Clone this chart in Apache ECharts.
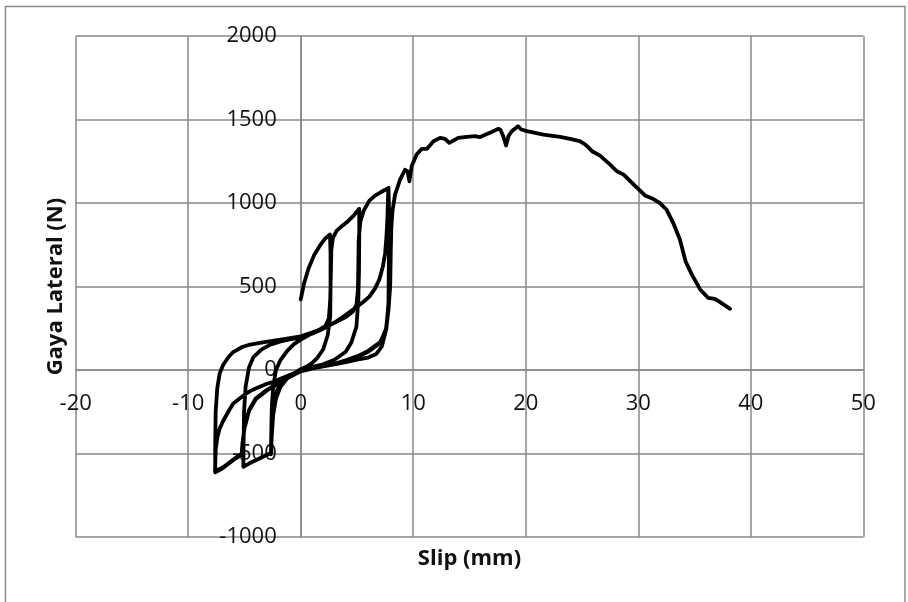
<!DOCTYPE html>
<html>
<head>
<meta charset="utf-8">
<script src="https://cdn.jsdelivr.net/npm/echarts@6/dist/echarts.min.js"></script>
<style>
html,body{margin:0;padding:0;background:#fff;}
#chart{width:908px;height:602px;}
</style>
</head>
<body>
<div id="chart"></div>
<script>
// Cyclic loading part (slip in mm, lateral force in N), in drawing order
const cyclicSlip = [
  0,0.3,0.7,1.2,1.7,2.2,2.6,
  2.65,2.65,2.62,2.4,2.0,1.5,1.0,0.5,0,-0.6,-1.2,-1.8,-2.2,-2.45,-2.58,-2.65,
  -2.62,-2.57,-2.45,-2.2,-1.8,-1.2,-0.6,0,0.8,1.6,2.2,2.5,2.62,2.68,2.72,2.85,3.2,3.7,4.2,4.7,5.0,5.2,
  5.2,5.18,5.12,4.95,4.5,4,3,2,1,0,-0.8,-1.5,-2.1,-2.45,-2.6,-2.62,-3.2,-4,-4.6,-5.1,
  -5.08,-5.04,-4.9,-4.6,-4.2,-3.5,-2.7,-1.8,-1,0,1,2,3,4,4.6,4.95,5.08,5.12,5.15,5.3,5.6,6.1,6.6,7.1,7.5,7.8,
  7.85,7.85,7.85,7.8,7.55,7,6,5,4,3,2,1,0,-1,-2,-3,-4,-4.6,-5,-5.15,-5.2,-5.8,-6.5,-7.1,-7.6,
  -7.6,-7.56,-7.42,-7.2,-6.9,-6.4,-6,-5.2,-4.5,-3.5,-2.8,-1.5,0,1,2,3,3.8,4.9,5.5,6.1,6.6,7,7.3,7.5,7.62,7.7,7.74,7.78,
  7.82,7.83,7.8,7.6,7.1,6,5,4,3,2,1,0,-1,-2,-3,-4,-4.6,-5,-5.18,-5.25,-5.9,-6.6,-7.1,-7.62
];
const cyclicForce = [
  424,520,610,690,745,790,812,
  700,500,320,210,125,75,42,20,5,-20,-50,-100,-170,-270,-400,-505,
  -380,-220,-100,0,60,115,155,182,212,240,265,310,420,580,720,790,835,865,892,925,950,966,
  800,600,420,260,165,110,62,35,18,0,-30,-62,-120,-220,-350,-495,-515,-540,-560,-580,
  -450,-250,-100,15,78,122,152,172,184,195,218,248,283,318,348,390,480,620,780,890,955,1015,1045,1065,1080,1092,
  950,750,520,360,235,160,110,78,55,36,22,8,-8,-42,-82,-122,-175,-245,-350,-430,-505,-530,-565,-595,-613,
  -450,-250,-110,-20,30,80,108,138,153,165,172,186,202,225,250,285,320,375,405,440,488,545,620,700,800,904,1000,1080,
  900,650,400,250,170,115,82,58,38,24,10,-5,-40,-78,-118,-170,-240,-345,-440,-500,-532,-568,-590,-605
];
// Final push to failure
const pushSlip = [
  -7.55,-7.4,-7.2,-6.9,-6.4,-6,-5,-4.5,-4,-3,-2.5,-2,-1,0,1,2,3,4,4.4,5,6,6.7,7.2,7.6,7.8,7.95,8.0,8.05,8.15,
  8.38,8.83,9.27,9.5,9.66,9.86,10.3,10.76,11.2,11.8,12.38,12.83,13.2,14.0,14.76,15.5,15.9,16.8,17.57,17.75,18.0,18.25,18.46,18.75,19.3,19.6,20.1,
  21.57,23.05,23.94,24.8,25.3,25.9,26.6,27.5,28.1,28.7,29.6,30.6,31.3,31.9,32.5,33.1,33.7,34.2,34.75,35.5,36.2,36.8,37.27,38.16
];
const pushForce = [
  -470,-400,-350,-305,-245,-200,-148,-126,-110,-82,-72,-58,-30,-5,10,22,34,47,54,62,75,96,140,244,364,500,700,850,950,
  1051,1141,1200,1190,1131,1221,1291,1325,1325,1371,1391,1385,1361,1391,1397,1401,1395,1421,1445,1440,1401,1345,1401,1431,1461,1441,1431,
  1411,1397,1385,1371,1351,1311,1285,1231,1191,1171,1111,1046,1026,1002,962,882,782,652,573,483,433,427,407,367
];
const xTicks = {min: -20, max: 50, step: 10};
const yTicks = {min: -1000, max: 2000, step: 500};

const data = [];
cyclicSlip.forEach((x, i) => data.push([x, cyclicForce[i]]));
pushSlip.forEach((x, i) => data.push([x, pushForce[i]]));

// layout of the plot area
const G = {left: 75.7, right: 44.7, top: 36.2, bottom: 65};
const plotW = 908 - G.left - G.right;
const plotH = 602 - G.top - G.bottom;
// place the axes on the zero lines (x = 0, y = 0), as in the original
const yAxisOffset = -plotW * (0 - xTicks.min) / (xTicks.max - xTicks.min);
const xAxisOffset = -plotH * (0 - yTicks.min) / (yTicks.max - yTicks.min);

const font = 'Open Sans';
const gridColor = '#898989';
const chart = echarts.init(document.getElementById('chart'), null, {renderer: 'canvas'});
chart.setOption({
  animation: false,
  backgroundColor: '#ffffff',
  grid: Object.assign({containLabel: false, outerBoundsMode: 'none'}, G),
  graphic: [{
    type: 'rect', shape: {x: 5.5, y: 6.5, width: 899.5, height: 640},
    style: {fill: 'none', stroke: '#8a8a8a', lineWidth: 1.5}, silent: true, z: 0
  }],
  xAxis: {
    type: 'value', min: xTicks.min, max: xTicks.max, interval: xTicks.step,
    position: 'bottom', offset: xAxisOffset,
    name: 'Slip (mm)', nameLocation: 'middle', nameGap: 178,
    nameTextStyle: {fontFamily: font, fontWeight: 'bold', fontSize: 22, color: '#111'},
    axisLine: {show: true, onZero: false, lineStyle: {color: gridColor, width: 1.5}},
    axisTick: {show: false},
    axisLabel: {fontFamily: font, fontSize: 22, color: '#111', margin: 23, formatter: v => String(v)},
    splitLine: {show: true, lineStyle: {color: gridColor, width: 1.5}}
  },
  yAxis: {
    type: 'value', min: yTicks.min, max: yTicks.max, interval: yTicks.step,
    position: 'left', offset: yAxisOffset,
    name: 'Gaya Lateral (N)', nameLocation: 'middle', nameGap: 234, nameRotate: 90,
    nameTextStyle: {fontFamily: font, fontWeight: 'bold', fontSize: 22, color: '#111'},
    axisLine: {show: true, onZero: false, lineStyle: {color: gridColor, width: 1.5}},
    axisTick: {show: false},
    axisLabel: {fontFamily: font, fontSize: 22, color: '#111', margin: 24, formatter: v => String(v)},
    splitLine: {show: true, lineStyle: {color: gridColor, width: 1.5}}
  },
  series: [{
    type: 'line', data: data, showSymbol: false, symbol: 'none', smooth: false,
    lineStyle: {color: '#000', width: 3.8, join: 'round', cap: 'round'},
    z: 5
  }]
});
</script>
</body>
</html>
